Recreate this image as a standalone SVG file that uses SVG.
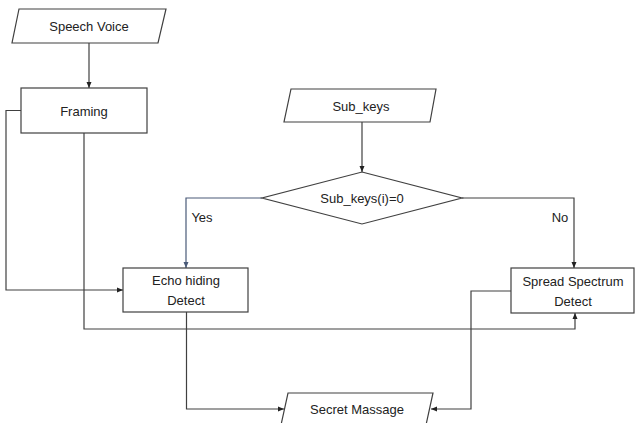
<svg xmlns="http://www.w3.org/2000/svg" width="635" height="423" viewBox="0 0 635 423">
<style>
.s{fill:#fff;stroke:#404040;stroke-width:1.2}
.t{font-family:"Liberation Sans",Arial,sans-serif;font-size:13px;fill:#222;text-anchor:middle;dominant-baseline:central}
.c{fill:none;stroke:#404040;stroke-width:1.2}
.b{fill:none;stroke:#4a5a78;stroke-width:1.2}
</style>
<defs>
<marker id="a" markerWidth="6" markerHeight="6" refX="6" refY="3" orient="auto" markerUnits="userSpaceOnUse"><path d="M0,0.5 L6,3 L0,5.5Z" fill="#222"/></marker>
<marker id="ab" markerWidth="6" markerHeight="6" refX="6" refY="3" orient="auto" markerUnits="userSpaceOnUse"><path d="M0,0.5 L6,3 L0,5.5Z" fill="#4a5a78"/></marker>
</defs>
<rect width="635" height="423" fill="#fff"/>
<g id="connectors">
<path class="c" d="M89,43 V88" marker-end="url(#a)"/>
<path class="c" d="M362,122 V172" marker-end="url(#a)"/>
<path class="c" d="M21,110.5 H6 V290 H123" marker-end="url(#a)"/>
<path class="c" d="M84,133 V329 H575 V313" marker-end="url(#a)"/>
<path class="b" d="M262,198 H186 V268" marker-end="url(#ab)"/>
<path class="c" d="M462,198 H574 V268" marker-end="url(#a)"/>
<path class="c" d="M186.5,312 V409 H284" marker-end="url(#a)"/>
<path class="c" d="M511,291 H471 V409 H431" marker-end="url(#a)"/>
<text class="t" x="202" y="217">Yes</text>
<text class="t" x="560" y="217">No</text>
</g>
<g id="speech-voice">
<polygon class="s" points="19,9 166,9 158,43 12,43"/>
<text class="t" x="89" y="26">Speech Voice</text>
</g>
<g id="framing">
<rect class="s" x="21" y="88" width="126" height="45"/>
<text class="t" x="84" y="111">Framing</text>
</g>
<g id="sub-keys">
<polygon class="s" points="291,89 436,89 430,122 284,122"/>
<text class="t" x="361" y="106">Sub_keys</text>
</g>
<g id="decision">
<polygon class="s" points="362,172 462,198 362,224 262,198"/>
<text class="t" x="362" y="198">Sub_keys(i)=0</text>
</g>
<g id="echo-hiding">
<rect class="s" x="123" y="268" width="125" height="44"/>
<text class="t" x="186" y="280">Echo hiding</text>
<text class="t" x="186" y="300">Detect</text>
</g>
<g id="spread-spectrum">
<rect class="s" x="511" y="268" width="123" height="45"/>
<text class="t" x="573" y="281">Spread Spectrum</text>
<text class="t" x="573" y="301">Detect</text>
</g>
<g id="secret-massage">
<polygon class="s" points="288,393 433,393 426,425 281,425"/>
<text class="t" x="357" y="409">Secret Massage</text>
</g>
</svg>
